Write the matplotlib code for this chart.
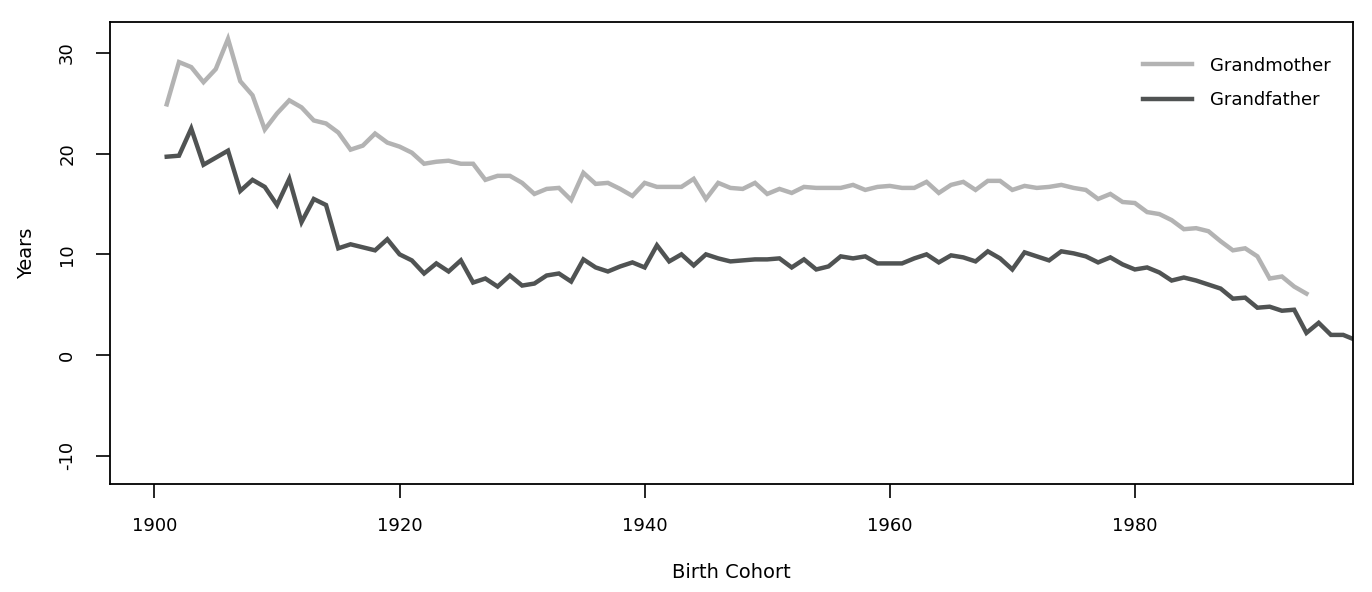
import matplotlib
matplotlib.use("Agg")
import matplotlib.pyplot as plt
import numpy as np

plt.rcParams['font.family'] = ['Liberation Sans Narrow', 'DejaVu Sans']
plt.rcParams['axes.unicode_minus'] = False

gm_years = list(range(1901, 1995))
grandmother = [24.9, 29.1, 28.6, 27.1, 28.4, 31.4, 27.2, 25.8, 22.4, 24.0,
               25.3, 24.6, 23.3, 23.0, 22.1, 20.4, 20.8, 22.0, 21.1, 20.7,
               20.1, 19.0, 19.2, 19.3, 19.0, 19.0, 17.4, 17.8, 17.8, 17.1,
               16.0, 16.5, 16.6, 15.4, 18.1, 17.0, 17.1, 16.5, 15.8, 17.1,
               16.7, 16.7, 16.7, 17.5, 15.5, 17.1, 16.6, 16.5, 17.1, 16.0,
               16.5, 16.1, 16.7, 16.6, 16.6, 16.6, 16.9, 16.4, 16.7, 16.8,
               16.6, 16.6, 17.2, 16.1, 16.9, 17.2, 16.4, 17.3, 17.3, 16.4,
               16.8, 16.6, 16.7, 16.9, 16.6, 16.4, 15.5, 16.0, 15.2, 15.1,
               14.2, 14.0, 13.4, 12.5, 12.6, 12.3, 11.3, 10.4, 10.6, 9.8,
               7.6, 7.8, 6.8, 6.1]
gf_years = list(range(1901, 1999))
grandfather = [19.7, 19.8, 22.5, 18.9, 19.6, 20.3, 16.3, 17.4, 16.7, 14.9,
               17.5, 13.2, 15.5, 14.9, 10.6, 11.0, 10.7, 10.4, 11.5, 10.0,
               9.4, 8.1, 9.1, 8.3, 9.4, 7.2, 7.6, 6.8, 7.9, 6.9,
               7.1, 7.9, 8.1, 7.3, 9.5, 8.7, 8.3, 8.8, 9.2, 8.7,
               10.9, 9.3, 10.0, 8.9, 10.0, 9.6, 9.3, 9.4, 9.5, 9.5,
               9.6, 8.7, 9.5, 8.5, 8.8, 9.8, 9.6, 9.8, 9.1, 9.1,
               9.1, 9.6, 10.0, 9.2, 9.9, 9.7, 9.3, 10.3, 9.6, 8.5,
               10.2, 9.8, 9.4, 10.3, 10.1, 9.8, 9.2, 9.7, 9.0, 8.5,
               8.7, 8.2, 7.4, 7.7, 7.4, 7.0, 6.6, 5.6, 5.7, 4.7,
               4.8, 4.4, 4.5, 2.2, 3.2, 2.0, 2.0, 1.5]
x_ticks = [1900, 1920, 1940, 1960, 1980]
y_ticks = [-10, 0, 10, 20, 30]

fig = plt.figure(figsize=(13.72, 5.92), dpi=100)
ax = fig.add_axes([109.5/1372, 1-484/592, (1353-109.5)/1372, (484-22)/592])
ax.plot(gm_years, grandmother, color='#b3b3b3', lw=3.2, label='Grandmother', solid_joinstyle='miter')
ax.plot(gf_years, grandfather, color='#505353', lw=3.2, label='Grandfather', solid_joinstyle='miter')
ax.set_xlim(1896.33, 1997.8)
ax.set_ylim(-12.81, 33.08)
ax.set_xticks(x_ticks)
ax.set_yticks(y_ticks)
ax.tick_params(direction='out', length=10, width=1.2, labelsize=13, pad=14)
ax.tick_params(axis='y', labelrotation=90)
for t in ax.get_yticklabels():
    t.set_va('center')
for s in ax.spines.values():
    s.set_linewidth(1.3)
ax.set_xlabel('Birth Cohort', fontsize=14, labelpad=20)
ax.set_ylabel('Years', fontsize=14, labelpad=16)
leg = ax.legend(loc='upper right', frameon=False, fontsize=13, handlelength=2.7,
                handletextpad=1.0, labelspacing=0.9, bbox_to_anchor=(0.995, 0.96))
fig.savefig('out.png', dpi=100)
